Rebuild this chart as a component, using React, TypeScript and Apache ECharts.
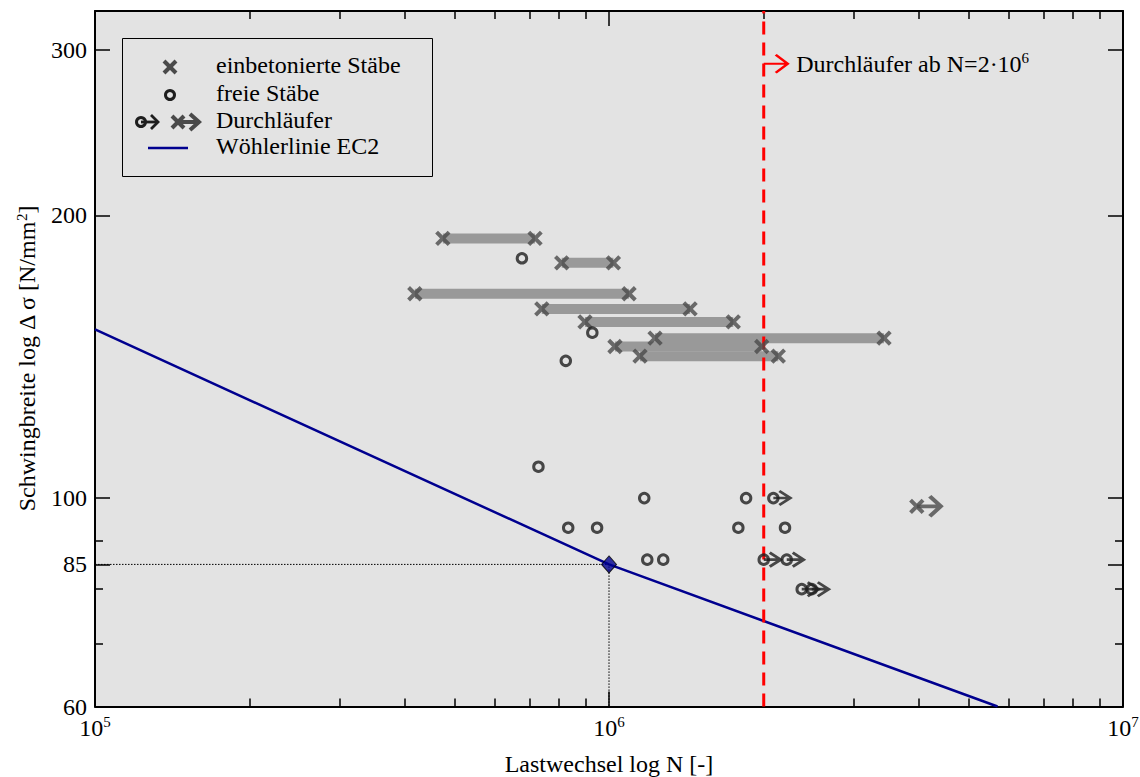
import React, { useEffect, useRef } from 'react';
import * as echarts from 'echarts';

// ---- axis ticks ----
const xMajorTicks = [1e5, 1e6, 1e7];
const xMinorTicks = [2e5, 3e5, 4e5, 5e5, 6e5, 7e5, 8e5, 9e5, 2e6, 3e6, 4e6, 5e6, 6e6, 7e6, 8e6, 9e6];
const yMajorTicks = [60, 85, 100, 200, 300];
const yMinorTicks = [70, 80, 90];

// ---- einbetonierte Stäbe (pairs joined by a grey bar) ----
const embeddedStress = [189, 178, 165, 159, 154, 148, 145, 141.6];
const embeddedNStart = [4.75e5, 8.09e5, 4.19e5, 7.4e5, 8.98e5, 1.229e6, 1.027e6, 1.149e6];
const embeddedNEnd = [7.18e5, 1.02e6, 1.094e6, 1.438e6, 1.745e6, 3.428e6, 1.982e6, 2.135e6];

// ---- einbetonierte Durchläufer ----
const runoutEmbeddedN = [3.97e6];
const runoutEmbeddedS = [98];

// ---- freie Stäbe ----
const freeN = [6.77e5, 9.28e5, 8.24e5, 7.29e5, 1.171e6, 1.848e6, 8.33e5, 9.48e5, 1.785e6, 2.2e6, 1.187e6, 1.275e6];
const freeS = [180, 150, 140, 108, 100, 100, 93, 93, 93, 93, 86, 86];

// ---- freie Durchläufer ----
const runoutFreeN = [2.088e6, 2.0e6, 2.217e6, 2.371e6, 2.48e6];
const runoutFreeS = [100, 86, 86, 80, 80];

// ---- Wöhlerlinie EC2 ----
const wohlerN = [1e5, 1e6, 5.7e6];
const wohlerS = [151.2, 85, 60];

const referenceN = 1e6;
const referenceS = 85;
const runoutLimitN = 2e6;
const annotationS = 290;

const FONT = "'Liberation Serif', 'Times New Roman', serif";
const BG = '#e3e3e3';
const X_COLOR = '#4a4a4a';
const O_COLOR = '#1e1e1e';
const BAR_COLOR = '#999999';
const NAVY = '#00008f';

const X_PATH = 'path://M0,0L10,10M0,10L10,0';
const ARROW_O = 'path://M0,7L17,7M6,0L17,7L6,14';
const ARROW_X = 'path://M0,10L24,10M13,0L24,10L13,20';
const ARROW_RED = 'path://M0,9L24,9M12,0L24,9L12,18';

const supRich = {
  sup: { fontSize: 15, lineHeight: 12, verticalAlign: 'top', fontFamily: FONT, color: '#000' },
  t: { fontSize: 24, lineHeight: 26, fontFamily: FONT, color: '#000' },
};

const xRange = { min: 1e5, max: 1e7 };
const yRange = { min: 60, max: 330 };
const lineBlack = { color: '#000', width: 2 };
const tickBlack = { color: '#000', width: 1.5 };

function mkAxis(range: any, position: string, ticks: number[], len: number, showLine: boolean, extra: any = {}) {
  return {
    type: 'log',
    logBase: 10,
    ...range,
    position,
    splitLine: { show: false },
    minorTick: { show: false },
    minorSplitLine: { show: false },
    axisLine: { show: showLine, onZero: false, lineStyle: lineBlack },
    axisTick: { show: true, inside: true, length: len, customValues: ticks, lineStyle: tickBlack },
    axisLabel: { show: false },
    ...extra,
  };
}

const xAxes = [
  mkAxis(xRange, 'bottom', xMajorTicks, 15, true, {
    axisLabel: {
      show: true,
      customValues: xMajorTicks,
      margin: 8,
      fontFamily: FONT,
      fontSize: 24,
      lineHeight: 26,
      color: '#000',
      formatter: (v: number) => `{t|10}{sup|${Math.round(Math.log10(v))}}`,
      rich: supRich,
    },
    name: 'Lastwechsel log N [-]',
    nameLocation: 'middle',
    nameGap: 45,
    nameTextStyle: { fontFamily: FONT, fontSize: 24, color: '#000' },
  }),
  mkAxis(xRange, 'bottom', xMinorTicks, 8, false),
  mkAxis(xRange, 'top', xMajorTicks, 15, true),
  mkAxis(xRange, 'top', xMinorTicks, 8, false),
];

const yAxes = [
  mkAxis(yRange, 'left', yMajorTicks, 15, true, {
    axisLabel: {
      show: true,
      customValues: yMajorTicks,
      margin: 8,
      fontFamily: FONT,
      fontSize: 24,
      color: '#000',
    },
    name: '{t|Schwingbreite log Δ σ [N/mm}{sup|2}{t|]}',
    nameLocation: 'middle',
    nameGap: 55,
    nameTextStyle: { fontFamily: FONT, fontSize: 24, color: '#000', rich: supRich },
  }),
  mkAxis(yRange, 'left', yMinorTicks, 8, false),
  mkAxis(yRange, 'right', yMajorTicks, 15, true),
  mkAxis(yRange, 'right', yMinorTicks, 8, false),
];

const barSeries = embeddedStress.map((s, i) => ({
  type: 'line',
  name: 'bar' + i,
  data: [
    [embeddedNStart[i], s],
    [embeddedNEnd[i], s],
  ],
  symbol: 'none',
  lineStyle: { color: BAR_COLOR, width: 10, cap: 'butt' },
  z: 1,
  silent: true,
}));

const embeddedPoints: number[][] = [];
embeddedStress.forEach((s, i) => {
  embeddedPoints.push([embeddedNStart[i], s]);
  embeddedPoints.push([embeddedNEnd[i], s]);
});
const runoutEmbeddedPoints = runoutEmbeddedN.map((n, i) => [n, runoutEmbeddedS[i]]);
const freePoints = freeN.map((n, i) => [n, freeS[i]]);
const runoutFreePoints = runoutFreeN.map((n, i) => [n, runoutFreeS[i]]);
const wohlerPoints = wohlerN.map((n, i) => [n, wohlerS[i]]);

const series: any[] = [
  ...barSeries,
  {
    type: 'line',
    name: 'Wöhlerlinie EC2',
    data: wohlerPoints,
    symbol: 'none',
    lineStyle: { color: NAVY, width: 2.5 },
    z: 2,
  },
  {
    type: 'line',
    name: 'ref',
    data: [
      [xRange.min, referenceS],
      [referenceN, referenceS],
      [referenceN, yRange.min],
    ],
    symbol: 'none',
    lineStyle: { color: '#000', width: 1, type: [1.5, 1.5] },
    z: 2,
  },
  {
    type: 'line',
    name: 'limit',
    data: [
      [runoutLimitN, yRange.min],
      [runoutLimitN, yRange.max],
    ],
    symbol: 'none',
    lineStyle: { color: '#ff0000', width: 3, type: [13, 8] },
    z: 2,
  },
  {
    type: 'scatter',
    name: 'einbetonierte Stäbe',
    data: [...embeddedPoints, ...runoutEmbeddedPoints],
    symbol: X_PATH,
    symbolSize: 12.5,
    itemStyle: { color: 'rgba(0,0,0,0)', borderColor: X_COLOR, borderWidth: 4 },
    z: 4,
  },
  {
    type: 'scatter',
    name: 'Durchläufer X',
    data: runoutEmbeddedPoints,
    symbol: ARROW_X,
    symbolSize: [24, 20],
    symbolOffset: [12, 0],
    itemStyle: { color: 'rgba(0,0,0,0)', borderColor: X_COLOR, borderWidth: 4 },
    z: 4,
  },
  {
    type: 'scatter',
    name: 'freie Stäbe',
    data: [...freePoints, ...runoutFreePoints],
    symbol: 'circle',
    symbolSize: 9.5,
    itemStyle: { color: 'rgba(0,0,0,0)', borderColor: O_COLOR, borderWidth: 3 },
    z: 5,
  },
  {
    type: 'scatter',
    name: 'Durchläufer O',
    data: runoutFreePoints,
    symbol: ARROW_O,
    symbolSize: [17, 14],
    symbolOffset: [8.5, 0],
    itemStyle: { color: 'rgba(0,0,0,0)', borderColor: O_COLOR, borderWidth: 2.8 },
    z: 5,
  },
  {
    type: 'scatter',
    name: 'Bezugspunkt',
    data: [[referenceN, referenceS]],
    symbol: 'diamond',
    symbolSize: [15, 17],
    itemStyle: { color: NAVY, borderColor: '#000', borderWidth: 1 },
    z: 6,
  },
  {
    type: 'scatter',
    name: 'annotation',
    data: [[runoutLimitN, annotationS]],
    symbol: ARROW_RED,
    symbolSize: [24, 18],
    symbolOffset: [12, 0],
    itemStyle: { color: 'rgba(0,0,0,0)', borderColor: '#ff0000', borderWidth: 2.5, opacity: 1 },
    label: {
      show: true,
      position: 'right',
      distance: 7,
      color: '#000',
      opacity: 1,
      textBorderWidth: 0,
      formatter: '{t|Durchläufer ab N=2·10}{sup|6}',
      rich: supRich,
    },
    z: 6,
  },
];

const txt = (text: string, y: number) => ({
  type: 'text',
  x: 216,
  y,
  style: { text, fontFamily: FONT, fontSize: 24, fill: '#000', verticalAlign: 'middle', align: 'left' },
});

const legendGraphic = {
  type: 'group',
  silent: true,
  z: 100,
  children: [
    {
      type: 'rect',
      shape: { x: 122.5, y: 38.5, width: 310, height: 138 },
      style: { fill: BG, stroke: '#000', lineWidth: 1 },
    },
    { type: 'line', shape: { x1: 164, y1: 61, x2: 176, y2: 73 }, style: { stroke: X_COLOR, lineWidth: 4 } },
    { type: 'line', shape: { x1: 164, y1: 73, x2: 176, y2: 61 }, style: { stroke: X_COLOR, lineWidth: 4 } },
    txt('einbetonierte Stäbe', 65),
    { type: 'circle', shape: { cx: 170, cy: 95, r: 4.5 }, style: { fill: 'none', stroke: O_COLOR, lineWidth: 3 } },
    txt('freie Stäbe', 93),
    { type: 'circle', shape: { cx: 141, cy: 122, r: 4.5 }, style: { fill: 'none', stroke: O_COLOR, lineWidth: 3 } },
    { type: 'line', shape: { x1: 141, y1: 122, x2: 158, y2: 122 }, style: { stroke: O_COLOR, lineWidth: 2.8 } },
    { type: 'polyline', shape: { points: [[151, 115], [158, 122], [151, 129]] }, style: { fill: 'none', stroke: O_COLOR, lineWidth: 2.8 } },
    { type: 'line', shape: { x1: 172, y1: 116, x2: 184, y2: 128 }, style: { stroke: X_COLOR, lineWidth: 4 } },
    { type: 'line', shape: { x1: 172, y1: 128, x2: 184, y2: 116 }, style: { stroke: X_COLOR, lineWidth: 4 } },
    { type: 'line', shape: { x1: 178, y1: 122, x2: 199, y2: 122 }, style: { stroke: X_COLOR, lineWidth: 4 } },
    { type: 'polyline', shape: { points: [[190, 114], [199, 122], [190, 130]] }, style: { fill: 'none', stroke: X_COLOR, lineWidth: 4 } },
    txt('Durchläufer', 120),
    { type: 'line', shape: { x1: 148, y1: 148, x2: 188, y2: 148 }, style: { stroke: NAVY, lineWidth: 2.5 } },
    txt('Wöhlerlinie EC2', 146),
  ],
};

const option: any = {
  animation: false,
  backgroundColor: '#ffffff',
  textStyle: { fontFamily: FONT },
  grid: {
    left: 95,
    right: 17,
    top: 11,
    bottom: 70.5,
    show: true,
    backgroundColor: BG,
    borderWidth: 0,
    containLabel: false,
    outerBoundsMode: 'none',
  },
  xAxis: xAxes,
  yAxis: yAxes,
  series,
  graphic: [legendGraphic],
};

export default function App() {
  const ref = useRef<HTMLDivElement>(null);
  useEffect(() => {
    if (!ref.current) return;
    const chart = echarts.init(ref.current, null, { renderer: 'svg' });
    chart.setOption(option);
    return () => chart.dispose();
  }, []);
  return (
    <div
      ref={ref}
      style={{ position: 'fixed', left: 0, top: 0, width: 1140, height: 777, background: '#fff' }}
    />
  );
}
